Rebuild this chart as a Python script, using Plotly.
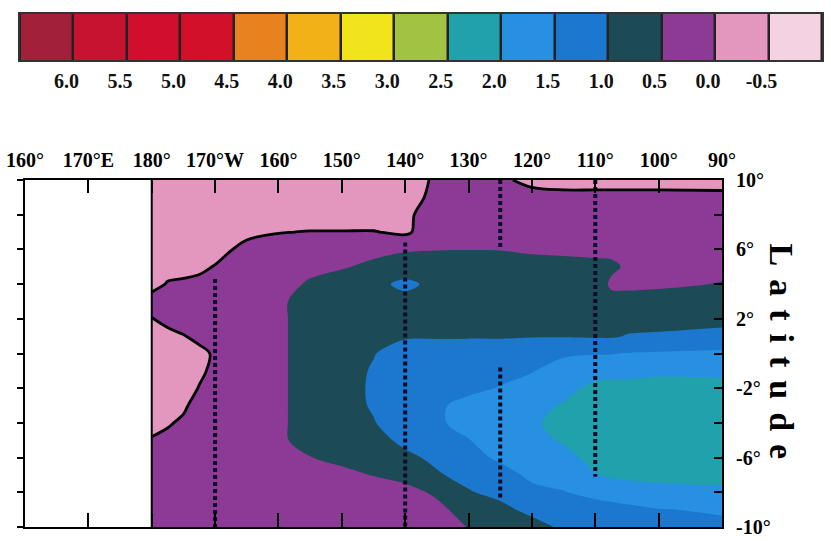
import numpy as np
import plotly.graph_objects as go

# ---- grid -------------------------------------------------------------
lons = [180, 182.5, 185, 187.5, 190, 195, 200, 205, 210, 215, 220,
        225, 230, 235, 240, 245, 250, 252.5, 255, 260, 270]
lats = [10, 9, 8, 7, 6, 5, 4, 3, 2, 1, 0, -1, -2, -3, -4, -5, -6, -7, -8, -9, -10]

# field values, one list per longitude, ordered north (10N) to south (10S)
field_by_lon = [
    [-0.3, -0.3, -0.3, -0.3, -0.3, -0.25, -0.1, 0.12, -0.01, -0.2, -0.3, -0.3, -0.3, -0.25, -0.12, 0.03, 0.2, 0.3, 0.3, 0.3, 0.3],   # 180
    [-0.3, -0.3, -0.3, -0.3, -0.3, -0.1, 0.02, 0.2, 0.1, -0.1, -0.25, -0.3, -0.25, -0.2, -0.05, 0.12, 0.25, 0.3, 0.3, 0.3, 0.3],      # 182.5
    [-0.3, -0.3, -0.3, -0.3, -0.3, -0.1, 0.05, 0.25, 0.2, -0.02, -0.2, -0.25, -0.2, -0.08, 0.08, 0.2, 0.3, 0.3, 0.3, 0.3, 0.3],       # 185
    [-0.3, -0.3, -0.3, -0.3, -0.3, -0.08, 0.1, 0.3, 0.25, 0.1, -0.1, -0.08, 0.02, 0.2, 0.3, 0.3, 0.3, 0.3, 0.3, 0.3, 0.3],           # 187.5
    [-0.3, -0.3, -0.3, -0.3, -0.15, 0.02, 0.3, 0.35, 0.3, 0.2, 0.05, 0.1, 0.25, 0.3, 0.3, 0.3, 0.3, 0.3, 0.3, 0.3, 0.3],             # 190
    [-0.3, -0.3, -0.3, -0.1, 0.12, 0.3, 0.3, 0.3, 0.3, 0.3, 0.3, 0.3, 0.3, 0.3, 0.3, 0.3, 0.3, 0.3, 0.3, 0.3, 0.3],                  # 195
    [-0.3, -0.3, -0.3, -0.02, 0.25, 0.3, 0.35, 0.38, 0.38, 0.38, 0.38, 0.38, 0.38, 0.38, 0.38, 0.38, 0.35, 0.3, 0.3, 0.3, 0.3],      # 200
    [-0.3, -0.3, -0.3, 0.02, 0.3, 0.4, 0.55, 0.78, 0.78, 0.78, 0.78, 0.78, 0.78, 0.78, 0.78, 0.75, 0.48, 0.3, 0.3, 0.3, 0.3],        # 205
    [-0.3, -0.3, -0.3, 0.02, 0.3, 0.45, 0.78, 0.8, 0.8, 0.82, 0.85, 0.82, 0.8, 0.8, 0.8, 0.78, 0.7, 0.3, 0.3, 0.3, 0.3],             # 210
    [-0.3, -0.3, -0.25, 0.02, 0.35, 0.62, 0.88, 0.85, 0.88, 0.9, 0.98, 1.04, 1.07, 1.05, 0.97, 0.85, 0.8, 0.52, 0.3, 0.3, 0.3],      # 215
    [-0.3, -0.15, -0.1, -0.08, 0.45, 0.75, 1.1, 0.85, 0.88, 0.95, 1.2, 1.25, 1.3, 1.35, 1.3, 1.1, 0.9, 0.7, 0.3, 0.3, 0.3],          # 220
    [0.1, 0.1, 0.25, 0.3, 0.48, 0.8, 0.88, 0.85, 0.88, 0.95, 1.25, 1.3, 1.38, 1.45, 1.42, 1.3, 1.1, 0.95, 0.6, 0.35, 0.25],          # 225
    [0.2, 0.25, 0.3, 0.35, 0.49, 0.8, 0.85, 0.85, 0.9, 0.95, 1.3, 1.38, 1.42, 1.6, 1.68, 1.48, 1.3, 1.15, 0.96, 0.75, 0.52],         # 230
    [0.1, 0.25, 0.3, 0.35, 0.48, 0.8, 0.85, 0.85, 0.9, 0.95, 1.3, 1.4, 1.52, 1.7, 1.8, 1.72, 1.6, 1.27, 1.15, 0.85, 0.7],            # 235
    [-0.15, 0.2, 0.3, 0.35, 0.4, 0.75, 0.85, 0.85, 0.9, 0.97, 1.35, 1.48, 1.65, 1.8, 1.9, 1.85, 1.75, 1.62, 1.35, 1.15, 0.78],       # 240
    [-0.2, 0.15, 0.3, 0.35, 0.38, 0.7, 0.85, 0.85, 0.9, 0.97, 1.45, 1.65, 1.8, 2.05, 2.2, 2.05, 1.85, 1.75, 1.47, 1.3, 1.1],         # 245
    [-0.2, 0.15, 0.3, 0.35, 0.4, 0.6, 0.7, 0.8, 0.88, 0.95, 1.48, 1.75, 2.17, 2.25, 2.3, 2.25, 2.15, 1.98, 1.7, 1.2, 1.1],           # 250
    [-0.2, 0.15, 0.3, 0.35, 0.42, 0.56, 0.45, 0.6, 0.85, 0.95, 1.48, 1.8, 2.2, 2.3, 2.3, 2.25, 2.2, 2.05, 1.75, 1.3, 1.15],          # 252.5
    [-0.2, 0.15, 0.3, 0.35, 0.4, 0.46, 0.47, 0.55, 0.85, 1.02, 1.52, 1.85, 2.15, 2.25, 2.3, 2.3, 2.25, 2.1, 1.77, 1.38, 1.2],        # 255
    [-0.2, 0.15, 0.3, 0.35, 0.4, 0.42, 0.46, 0.6, 0.85, 1.05, 1.55, 1.9, 2.2, 2.3, 2.3, 2.3, 2.25, 2.12, 1.85, 1.48, 1.3],           # 260
    [-0.2, 0.13, 0.3, 0.35, 0.4, 0.45, 0.51, 0.7, 0.9, 1.1, 1.6, 1.9, 2.15, 2.3, 2.35, 2.35, 2.3, 2.15, 1.9, 1.55, 1.4],             # 270
]

# ---- colour key -------------------------------------------------------
key_edges = [6.0, 5.5, 5.0, 4.5, 4.0, 3.5, 3.0, 2.5, 2.0, 1.5, 1.0, 0.5, 0.0, -0.5]
key_labels = ["6.0", "5.5", "5.0", "4.5", "4.0", "3.5", "3.0", "2.5", "2.0", "1.5", "1.0", "0.5", "0.0", "-0.5"]
key_centres = [6.25, 5.75, 5.25, 4.75, 4.25, 3.75, 3.25, 2.75, 2.25, 1.75, 1.25, 0.75, 0.25, -0.25, -0.75]
# band colours, lowest band first
band_colors = ["#f4d2e2", "#e396be", "#8c3a96", "#1d4b55", "#1c78cf", "#2890e0",
               "#20a1ac", "#a2c242", "#f1e31c", "#f2b116", "#e8821f", "#d3102a",
               "#cf0f2d", "#c81330", "#a3203a"]

# ---- measurement lines ------------------------------------------------
line_lon = [190, 220, 235, 235, 250]
line_lat_north = [4.3, 6.4, 10, -0.8, 10]
line_lat_south = [-10, -10, 6.1, -8.4, -7.1]

# top axis labels
lon_ticks = [160, 170, 180, 190, 200, 210, 220, 230, 240, 250, 260, 270]
lon_labels = ["160°", "170°E", "180°", "170°W", "160°", "150°", "140°", "130°",
              "120°", "110°", "100°", "90°"]
lat_ticks = [10, 6, 2, -2, -6, -10]
lat_labels = ["10°", "6°", "2°", "-2°", "-6°", "-10°"]

# ----------------------------------------------------------------------
n = len(band_colors)
cscale = []
for i, c in enumerate(band_colors):
    cscale.append([i / n, c])
    cscale.append([(i + 1) / n, c])

z = np.array(field_by_lon).T
zlo, zhi = -0.75, 6.25

serif = "Liberation Serif"
fig = go.Figure()

fig.add_trace(go.Contour(
    x=lons, y=lats, z=z, zmin=zlo, zmax=zhi, colorscale=cscale,
    autocontour=False,
    contours=dict(start=-0.5, end=6.0, size=0.5, coloring="fill", showlines=False),
    line=dict(width=0, smoothing=1.0),
    showscale=False, hoverinfo="skip",
))

# zero isoline drawn in black
fig.add_trace(go.Contour(
    x=lons, y=lats, z=z, autocontour=False,
    contours=dict(start=0, end=0, size=1, coloring="none"),
    line=dict(width=2.8, color="black", smoothing=1.0),
    showscale=False, hoverinfo="skip", xaxis="x2", yaxis="y2",
))

# dotted sections
lx, ly = [], []
for lo, a, b in zip(line_lon, line_lat_north, line_lat_south):
    lx += [lo, lo, None]
    ly += [a, b, None]
fig.add_trace(go.Scatter(x=lx, y=ly, mode="lines",
                         line=dict(color="#0d0d2a", width=4, dash="4px,3px"),
                         hoverinfo="skip", showlegend=False))

# colour key as a row of cells
fig.add_trace(go.Heatmap(
    x=key_centres, y=[0], z=[key_centres], zmin=zlo, zmax=zhi,
    colorscale=cscale, showscale=False, xgap=2.5, hoverinfo="skip",
    xaxis="x3", yaxis="y3",
))

map_x = [25 / 831, 722 / 831]
map_y = [14 / 541, 361 / 541]
key_x = [20 / 831, 822 / 831]
key_y = [481 / 541, 527 / 541]
tickfont = dict(family=serif, size=20, color="black", weight="bold")
keyfont = dict(family=serif, size=20, color="#111", weight="bold")

fig.update_layout(
    width=831, height=541, autosize=False,
    margin=dict(l=0, r=0, t=0, b=0, autoexpand=False),
    paper_bgcolor="white", plot_bgcolor="white",
    showlegend=False,
    xaxis=dict(domain=map_x, range=[160, 270], anchor="y",
               tickmode="array", tickvals=lon_ticks, ticks="inside", ticklen=14,
               tickwidth=1.5, tickcolor="black", showticklabels=False,
               showline=True, linewidth=2, linecolor="black", showgrid=False,
               zeroline=False, automargin=False),
    xaxis2=dict(overlaying="x", side="top", anchor="y", range=[160, 270],
                tickmode="array", tickvals=lon_ticks, ticktext=lon_labels,
                ticks="inside", ticklen=13, tickwidth=1.5, tickcolor="black",
                tickfont=tickfont, ticklabelstandoff=3,
                showline=True, linewidth=2, linecolor="black", showgrid=False,
                zeroline=False, automargin=False),
    yaxis=dict(domain=map_y, range=[-10, 10], anchor="x",
               dtick=2, tick0=0, ticks="outside", ticklen=6, tickwidth=2,
               tickcolor="black", showticklabels=False,
               showline=True, linewidth=2, linecolor="black", showgrid=False,
               zeroline=False, automargin=False),
    yaxis2=dict(overlaying="y", side="right", anchor="x", range=[-10, 10],
                tickmode="array", tickvals=lat_ticks, ticktext=lat_labels,
                ticks="inside", ticklen=8, tickwidth=2, tickcolor="black",
                minor=dict(dtick=2, tick0=0, ticks="inside", ticklen=8,
                           tickwidth=2, tickcolor="black"),
                tickfont=tickfont, ticklabelstandoff=8,
                showline=True, linewidth=2, linecolor="black", showgrid=False,
                zeroline=False, automargin=False),
    xaxis3=dict(domain=key_x, anchor="y3", range=[6.5, -1.0],
                tickmode="array", tickvals=key_edges, ticktext=key_labels,
                ticks="", tickfont=keyfont, ticklabelstandoff=2,
                ticklabelshift=7,
                showline=True, mirror=True, linewidth=2, linecolor="#333",
                showgrid=False, zeroline=False, automargin=False),
    yaxis3=dict(domain=key_y, anchor="x3", range=[-0.5, 0.5],
                showticklabels=False, ticks="", showline=True, mirror=True,
                linewidth=2, linecolor="#333", showgrid=False, zeroline=False,
                automargin=False),
    shapes=[
        dict(type="rect", xref="x3 domain", yref="y3 domain", x0=0, x1=1, y0=0, y1=1,
             fillcolor="#222", line=dict(width=0), layer="below"),
        dict(type="line", xref="x", yref="y domain", x0=180, x1=180, y0=0, y1=1,
             line=dict(color="black", width=2)),
    ],
    annotations=[
        dict(text='<b><span style="letter-spacing:13px">Latitude</span></b>',
             xref="paper", yref="paper", x=801 / 831, y=183 / 541,
             showarrow=False, textangle=90,
             font=dict(family=serif, size=34, color="black")),
    ],
)

fig.write_html("out.html")
